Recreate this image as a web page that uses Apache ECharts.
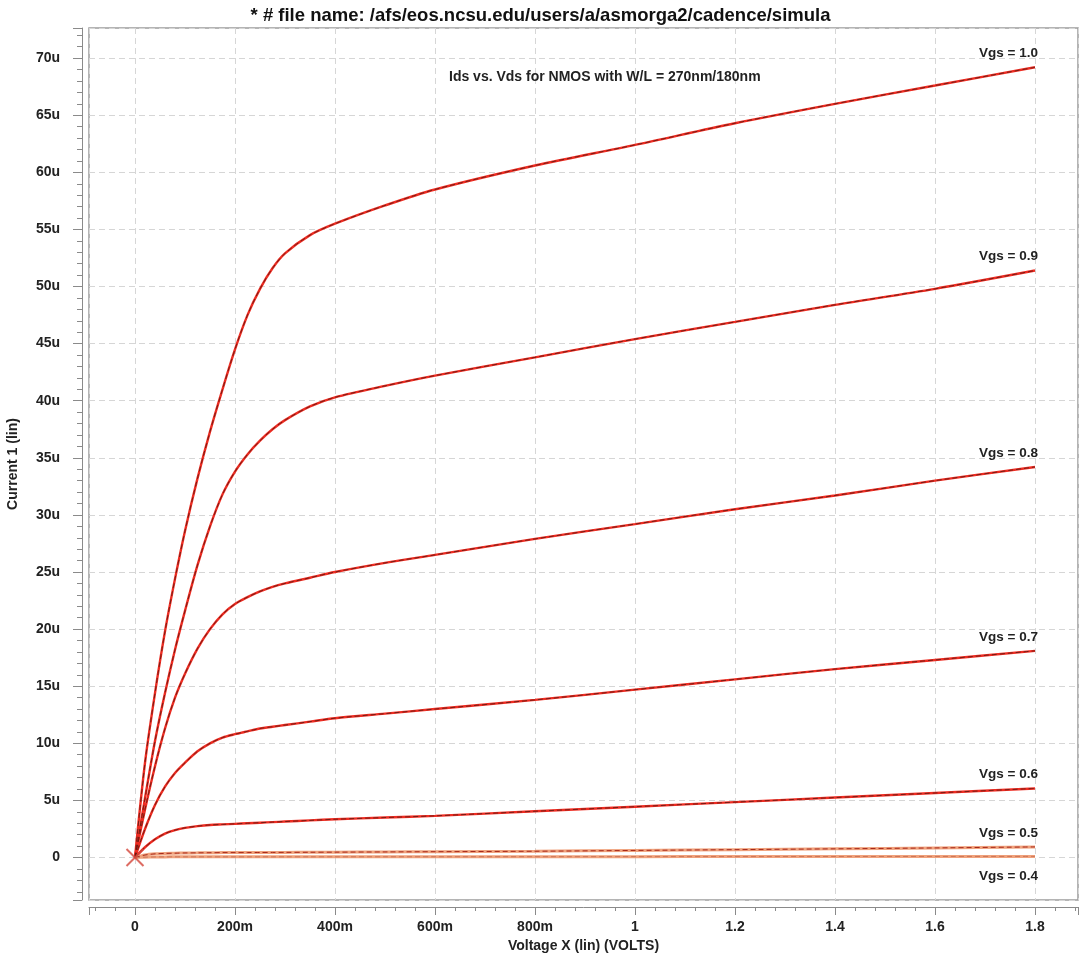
<!DOCTYPE html>
<html>
<head>
<meta charset="utf-8">
<script src="https://cdn.jsdelivr.net/npm/echarts@6/dist/echarts.min.js"></script>
<style>html,body{margin:0;padding:0;background:#fff}#c{width:1081px;height:955px}</style>
</head>
<body>
<div id="c"></div>
<script>
// Drain voltage samples (V)
var vds = [0, 0.02, 0.04, 0.06, 0.08, 0.1, 0.125, 0.15, 0.175, 0.2, 0.225, 0.25, 0.275, 0.3, 0.35, 0.4, 0.5, 0.6, 0.8, 1.0, 1.2, 1.4, 1.6, 1.8];
// Drain current (uA) for each Vgs
var ids10 = [0, 8.3, 14.4, 19.8, 24.4, 28.6, 33.2, 37.3, 41.0, 44.5, 47.5, 49.8, 51.6, 52.9, 54.5, 55.5, 57.1, 58.5, 60.6, 62.4, 64.3, 66.0, 67.6, 69.2];
var ids09 = [0, 5.2, 10.2, 14.4, 18.2, 21.6, 25.6, 29.0, 31.8, 33.8, 35.3, 36.5, 37.5, 38.3, 39.5, 40.3, 41.3, 42.2, 43.8, 45.4, 46.9, 48.4, 49.8, 51.4];
var ids08 = [0, 4.2, 8.0, 11.3, 14.0, 16.1, 18.3, 20.0, 21.3, 22.2, 22.8, 23.3, 23.7, 24.0, 24.5, 25.0, 25.8, 26.5, 27.9, 29.2, 30.5, 31.7, 33.0, 34.2];
var ids07 = [0, 2.5, 4.6, 6.2, 7.4, 8.3, 9.3, 10.0, 10.5, 10.8, 11.05, 11.3, 11.45, 11.6, 11.9, 12.2, 12.6, 13.0, 13.8, 14.7, 15.6, 16.5, 17.3, 18.1];
var ids06 = [0, 0.9, 1.6, 2.1, 2.4, 2.6, 2.75, 2.85, 2.9, 2.95, 3.0, 3.05, 3.1, 3.15, 3.25, 3.35, 3.5, 3.65, 4.05, 4.45, 4.85, 5.25, 5.65, 6.05];
var ids05 = [0, 0.22, 0.32, 0.36, 0.38, 0.4, 0.41, 0.42, 0.43, 0.43, 0.435, 0.44, 0.445, 0.45, 0.46, 0.47, 0.49, 0.51, 0.55, 0.62, 0.69, 0.76, 0.84, 0.93];
var ids04 = [0, 0.03, 0.05, 0.055, 0.06, 0.06, 0.06, 0.06, 0.06, 0.06, 0.06, 0.06, 0.061, 0.062, 0.063, 0.064, 0.066, 0.068, 0.072, 0.077, 0.082, 0.087, 0.092, 0.097];
var curveNames = ['Vgs = 1.0', 'Vgs = 0.9', 'Vgs = 0.8', 'Vgs = 0.7', 'Vgs = 0.6', 'Vgs = 0.5', 'Vgs = 0.4'];
var curveData = [ids10, ids09, ids08, ids07, ids06, ids05, ids04];
var xTickLabels = {0: '0', 0.2: '200m', 0.4: '400m', 0.6: '600m', 0.8: '800m', 1: '1', 1.2: '1.2', 1.4: '1.4', 1.6: '1.6', 1.8: '1.8'};
var origin = [[0, 0]];

var FONT = '"Liberation Sans", Arial, Helvetica, sans-serif';

function pairs(ys) { return vds.map(function (v, i) { return [v, ys[i]]; }); }

var series = [];
curveData.forEach(function (ys, k) {
  var low = k >= 5;
  var last = vds.length - 1;
  var below = (k === 6);
  series.push({
    type: 'line', name: curveNames[k], data: pairs(ys), showSymbol: false, smooth: 0.3, z: 2,
    lineStyle: { color: low ? '#f0a27c' : '#ee2c22', width: low ? 3 : 2.4 },
    markPoint: {
      symbol: 'circle', symbolSize: 0, silent: true,
      data: [{ coord: [vds[last], ys[last]] }],
      label: {
        show: true, formatter: curveNames[k], position: below ? 'bottom' : 'top', align: 'right',
        offset: below ? [3, 8] : [3, -2],
        fontFamily: FONT, fontWeight: 'bold', fontSize: 13.5, color: '#222'
      }
    }
  });
  series.push({
    type: 'line', data: pairs(ys), showSymbol: false, smooth: 0.3, z: 3, silent: true,
    lineStyle: { color: k === 6 ? '#c87055' : (low ? '#9e1a10' : '#6a1a12'), width: 0.9, type: [5, 3] }
  });
});
// origin cross marker
series.push({
  type: 'scatter', data: origin, symbol: 'rect', symbolSize: [24, 2], symbolRotate: 45, z: 4, silent: true,
  itemStyle: { color: '#d4473c' }
});
series.push({
  type: 'scatter', data: origin, symbol: 'rect', symbolSize: [24, 2], symbolRotate: -45, z: 4, silent: true,
  itemStyle: { color: '#d4473c' }
});

var chart = echarts.init(document.getElementById('c'), null, { renderer: 'canvas' });
chart.setOption({
  backgroundColor: '#ffffff',
  animation: false,
  title: [
    { text: '* # file name: /afs/eos.ncsu.edu/users/a/asmorga2/cadence/simula', left: 'center', top: 1,
      textStyle: { fontFamily: FONT, fontWeight: 'bold', fontSize: 18.5, color: '#111' } },
    { text: 'Ids vs. Vds for NMOS with W/L = 270nm/180nm', left: 444, top: 65,
      textStyle: { fontFamily: FONT, fontWeight: 'bold', fontSize: 14, color: '#222' } }
  ],
  grid: { left: 89, top: 28, right: 3, bottom: 55, show: true, borderColor: '#9c9c9c', borderWidth: 1.5,
    containLabel: false, outerBoundsMode: 'none' },
  xAxis: {
    type: 'value', min: -0.092, max: 1.886, splitNumber: 10, minInterval: 0.2, maxInterval: 0.2,
    offset: 7,
    name: 'Voltage X (lin) (VOLTS)', nameLocation: 'middle', nameGap: 28,
    nameTextStyle: { fontFamily: FONT, fontWeight: 'bold', fontSize: 14, color: '#222' },
    axisLine: { show: true, onZero: false, lineStyle: { color: '#8a8a8a', width: 1 } },
    axisTick: { show: true, inside: false, length: 8, lineStyle: { color: '#8a8a8a' } },
    minorTick: { show: true, splitNumber: 5, length: 4, lineStyle: { color: '#8a8a8a' } },
    axisLabel: {
      margin: 13, fontFamily: FONT, fontWeight: 'bold', fontSize: 14, color: '#222',
      showMinLabel: true, showMaxLabel: true,
      formatter: function (v) { var r = Math.round(v * 10) / 10; return Math.abs(v - r) < 1e-6 && xTickLabels[r] !== undefined ? xTickLabels[r] : ''; }
    },
    splitLine: { show: true, lineStyle: { color: '#d6d6d6', type: [6, 4], width: 1 } }
  },
  yAxis: {
    type: 'value', min: -3.72, max: 72.64, splitNumber: 15, minInterval: 5, maxInterval: 5,
    offset: 7,
    name: 'Current 1 (lin)', nameLocation: 'middle', nameGap: 62, nameRotate: 90,
    nameTextStyle: { fontFamily: FONT, fontWeight: 'bold', fontSize: 14, color: '#222' },
    axisLine: { show: true, onZero: false, lineStyle: { color: '#8a8a8a', width: 1 } },
    axisTick: { show: true, inside: false, length: 9, lineStyle: { color: '#8a8a8a' } },
    minorTick: { show: true, splitNumber: 5, length: 5, lineStyle: { color: '#8a8a8a' } },
    axisLabel: {
      margin: 22, fontFamily: FONT, fontWeight: 'bold', fontSize: 14, color: '#222',
      formatter: function (v) { var r = Math.round(v); if (Math.abs(v - r) > 1e-6 || r % 5 !== 0) return ''; return r === 0 ? '0' : r + 'u'; }
    },
    splitLine: { show: true, lineStyle: { color: '#d6d6d6', type: [6, 4], width: 1 } }
  },
  series: series
});
</script>
</body>
</html>
